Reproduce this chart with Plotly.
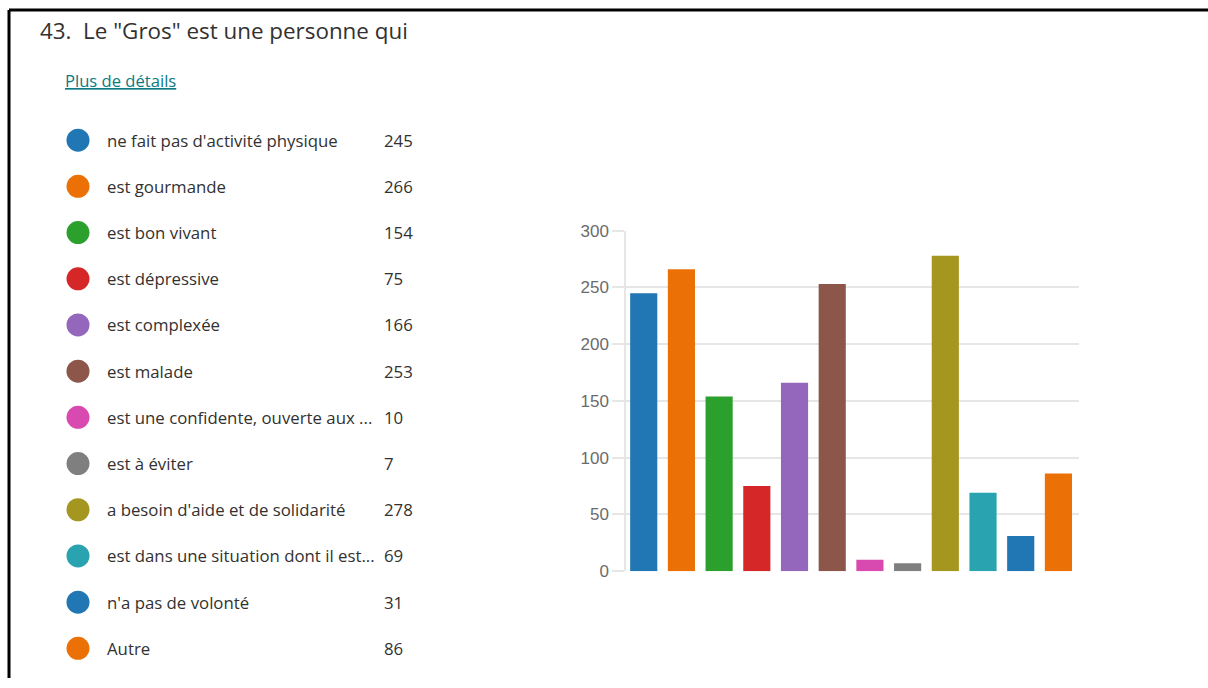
import plotly.graph_objects as go

# Response options, as displayed (long ones truncated in the list)
categories = [
    "ne fait pas d'activité physique",
    "est gourmande",
    "est bon vivant",
    "est dépressive",
    "est complexée",
    "est malade",
    "est une confidente, ouverte aux ...",
    "est à éviter",
    "a besoin d'aide et de solidarité",
    "est dans une situation dont il est...",
    "n'a pas de volonté",
    "Autre",
]
counts = [245, 266, 154, 75, 166, 253, 10, 7, 278, 69, 31, 86]
colors = [
    "#2077b4", "#eb7107", "#2ca02c", "#d62728", "#9467bd", "#8c564b",
    "#d94ab0", "#7f7f7f", "#a59620", "#29a3af", "#2077b4", "#eb7107",
]
y_ticks = [0, 50, 100, 150, 200, 250, 300]

title_text = '43.  Le "Gros" est une personne qui'
link_text = "Plus de détails"

W, H = 1208, 688
FONT = "Open Sans, Noto Sans, sans-serif"
TEXT_COLOR = "#323130"

# Page-offset compensation for the vertical placement of the figure
Y_OFF, Y_SCALE = 8.6, 0.974


def px_x(x):
    return x / W


def px_y(y):
    return 1 - ((y - Y_OFF) / Y_SCALE) / H


idx = list(range(len(categories)))

fig = go.Figure()

# Bar chart
fig.add_trace(go.Bar(
    x=idx, y=counts, marker=dict(color=colors, line=dict(width=0)),
    xaxis="x", yaxis="y", showlegend=False, hoverinfo="y",
))

# Legend list: coloured dots on their own hidden axes
fig.add_trace(go.Scatter(
    x=[78] * len(categories), y=idx, mode="markers",
    marker=dict(size=23, color=colors, line=dict(width=0)),
    xaxis="x2", yaxis="y2", showlegend=False, hoverinfo="skip",
))

annotations = []
for i, (lab, val) in enumerate(zip(categories, counts)):
    annotations.append(dict(
        x=105, y=i, xref="x2", yref="y2", text=lab, showarrow=False,
        xanchor="left", yanchor="middle",
        font=dict(family=FONT, size=16.8, color=TEXT_COLOR),
    ))
    annotations.append(dict(
        x=382, y=i, xref="x2", yref="y2", text=str(val), showarrow=False,
        xanchor="left", yanchor="middle",
        font=dict(family=FONT, size=16.8, color=TEXT_COLOR),
    ))

annotations.append(dict(
    x=px_x(38), y=px_y(30), xref="paper", yref="paper", text=title_text,
    showarrow=False, xanchor="left", yanchor="middle",
    font=dict(family=FONT, size=22.4, color=TEXT_COLOR),
))
annotations.append(dict(
    x=px_x(63), y=px_y(80), xref="paper", yref="paper",
    text="<u>" + link_text + "</u>", showarrow=False,
    xanchor="left", yanchor="middle",
    font=dict(family=FONT, size=16.6, color="#0b7a84"),
))

# Frame lines along top and left edges
shapes = [
    dict(type="line", xref="paper", yref="paper",
         x0=px_x(9), x1=1.0, y0=px_y(9.5), y1=px_y(9.5),
         line=dict(color="black", width=3)),
    dict(type="line", xref="paper", yref="paper",
         x0=px_x(9), x1=px_x(9), y0=px_y(9.5), y1=0.0,
         line=dict(color="black", width=3)),
]

row_px = (649 - 140) / 11
GRID = "#e6e6e6"

fig.update_layout(
    width=W, height=H,
    margin=dict(l=0, r=0, t=0, b=0),
    paper_bgcolor="white", plot_bgcolor="rgba(0,0,0,0)",
    bargap=0.28,
    xaxis=dict(
        domain=[px_x(626), px_x(1079)],
        range=[-0.47, 11.546],
        showticklabels=False, showgrid=False, zeroline=False,
        ticks="", fixedrange=True,
    ),
    yaxis=dict(
        domain=[px_y(571.7), px_y(230.7)],
        range=[0, 300], tickvals=y_ticks,
        showgrid=True, gridcolor=GRID, gridwidth=1.5,
        zeroline=False,
        showline=True, linecolor=GRID, linewidth=1.5,
        ticks="outside", ticklen=12, tickcolor=GRID, tickwidth=1.5,
        tickfont=dict(family="Liberation Sans, Arial, sans-serif",
                      size=17, color="#6b6b6b"),
        fixedrange=True,
    ),
    xaxis2=dict(
        domain=[0, 1], range=[0, W], visible=False, fixedrange=True,
        anchor="y2",
    ),
    yaxis2=dict(
        domain=[px_y(649 + row_px / 2), px_y(140 - row_px / 2)],
        range=[11.5, -0.5], visible=False, fixedrange=True,
        anchor="x2",
    ),
    annotations=annotations,
    shapes=shapes,
)

fig.write_html("out.html")
